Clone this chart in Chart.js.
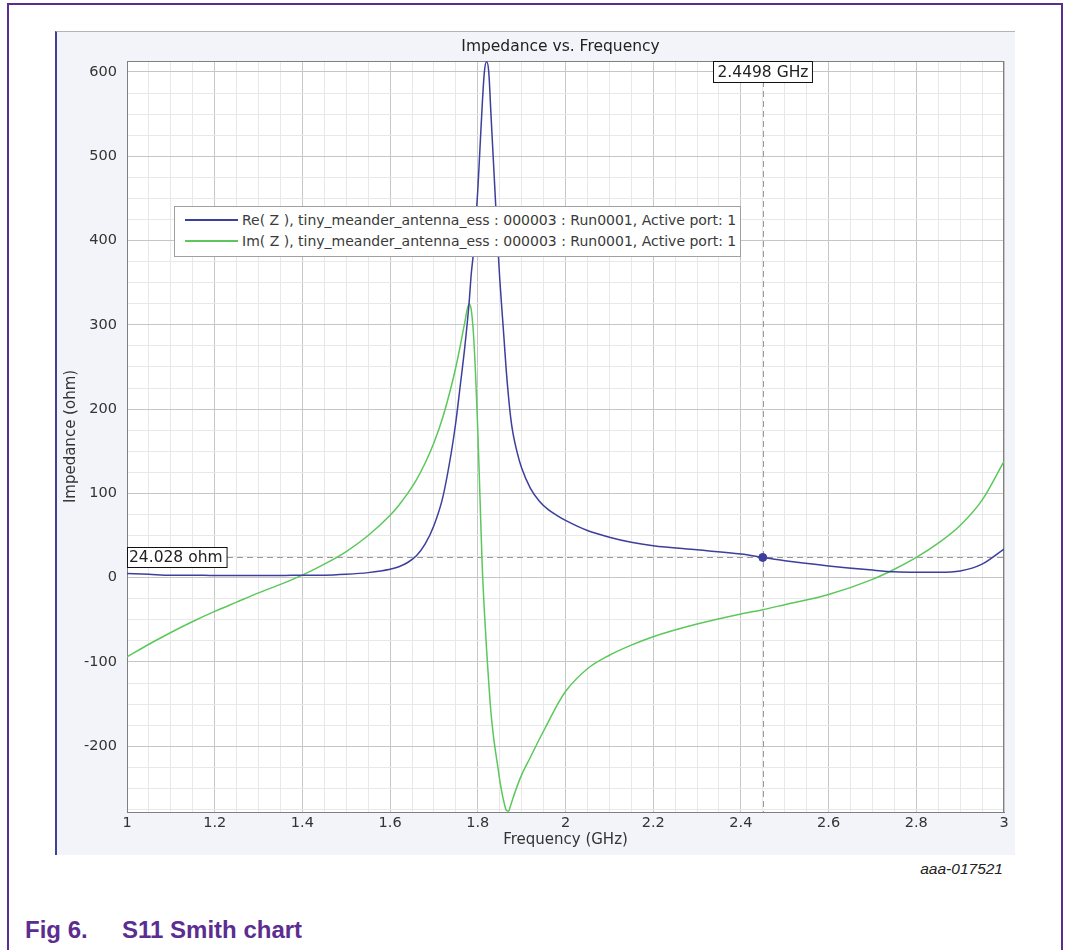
<!DOCTYPE html>
<html>
<head>
<meta charset="utf-8">
<script src="https://cdn.jsdelivr.net/npm/chart.js@4.4.1/dist/chart.umd.min.js"></script>
<style>
  html, body { margin: 0; padding: 0; background: #fff; }
  body { width: 1065px; height: 950px; position: relative; overflow: hidden; font-family: "DejaVu Sans", sans-serif; }
  #frame { position: absolute; left: 7px; top: 3px; width: 1056px; height: 1000px; border: 2px solid #5c2d91; border-bottom: none; box-sizing: border-box; }
  #panel { position: absolute; left: 55px; top: 31px; width: 960px; height: 824px; background: #f3f4f9; border-top: 1px solid #b4b4b8; border-left: 2px solid #3d4190; box-sizing: border-box; }
  #chart { position: absolute; left: 55px; top: 31px; }
  #legend { position: absolute; left: 174px; top: 206px; width: 567px; height: 51px; background: #fff; border: 1px solid #a0a0a0; box-sizing: border-box; }
  #legend .sample { position: absolute; left: 10px; width: 53px; height: 1.5px; }
  #legend .label { position: absolute; left: 67px; font-size: 14px; line-height: 16px; color: #3a3a3a; white-space: nowrap; }
  #code { position: absolute; right: 62px; top: 861px; font: italic 15.5px "Liberation Sans", Arial, sans-serif; line-height: 15px; color: #222; }
  .cap { position: absolute; top: 918px; font: bold 24px "Liberation Sans", Arial, sans-serif; line-height: 23px; color: #5c2d91; }
</style>
</head>
<body>
<div id="frame"></div>
<div id="panel"></div>
<canvas id="chart" width="960" height="824"></canvas>
<div id="legend"></div>
<div id="code">aaa-017521</div>
<div class="cap" style="left:25px">Fig 6.</div>
<div class="cap" style="left:122px">S11 Smith chart</div>
<script>
// frequency points (GHz), denser around the resonance
const freq = [1.0, 1.05, 1.1, 1.15, 1.2, 1.25, 1.3, 1.35, 1.4, 1.45, 1.5, 1.55, 1.6, 1.62, 1.64, 1.66, 1.68, 1.70,
  1.72, 1.74, 1.75, 1.76, 1.77, 1.78, 1.785, 1.79, 1.795, 1.80, 1.805, 1.81, 1.815, 1.82, 1.825, 1.83, 1.835,
  1.84, 1.845, 1.85, 1.855, 1.86, 1.865, 1.87, 1.875, 1.88, 1.89, 1.90, 1.92, 1.94, 1.96, 1.98, 2.0, 2.05,
  2.1, 2.15, 2.2, 2.3, 2.4, 2.45, 2.5, 2.6, 2.7, 2.75, 2.8, 2.85, 2.9, 2.95, 3.0];

// Re(Z), ohm
const reZ = [5, 4, 3, 3, 2.5, 2.5, 2.5, 2.5, 3, 3, 4, 6, 10, 13, 18, 26, 40, 62,
  95, 150, 185, 228, 272, 325, 360, 385, 420, 460, 510, 560, 600, 612, 600, 550, 500,
  450, 400, 355, 318, 282, 245, 215, 190, 172, 148, 130, 106, 91, 81, 74, 68, 56,
  48, 42, 38, 33, 28, 24, 20, 14, 9, 7, 6.5, 6.5, 8, 16, 34];

// Im(Z), ohm
const imZ = [-94, -79, -65, -52, -40, -29, -18, -8, 3, 16, 31, 50, 74, 86, 100, 116, 136, 160,
  190, 228, 250, 275, 302, 325, 318, 290, 240, 175, 95, 15, -40, -85, -125, -160, -185,
  -205, -222, -240, -255, -267, -276, -277, -270, -262, -247, -234, -213, -192, -172, -152, -135, -108,
  -92, -80, -70, -55, -43, -38, -32, -20, -2, 10, 24, 41, 62, 92, 138];

const seriesNames = [
  'Re( Z ), tiny_meander_antenna_ess : 000003 : Run0001, Active port: 1',
  'Im( Z ), tiny_meander_antenna_ess : 000003 : Run0001, Active port: 1'
];
const seriesColors = ['#3c3f9c', '#5cc85c'];

const markerFreq = 2.4498;
const markerOhm = 24.028;

const xMin = 1, xMax = 3, yMin = -278, yMax = 613;

const isMultiple = (v, step) => Math.abs(v / step - Math.round(v / step)) < 1e-6;

const markerPlugin = {
  id: 'marker',
  beforeDraw(chart) {
    const { ctx, chartArea: a } = chart;
    ctx.save();
    ctx.fillStyle = '#fff';
    ctx.fillRect(a.left, a.top, a.right - a.left, a.bottom - a.top);
    ctx.restore();
  },
  beforeDatasetsDraw(chart) {
    const { ctx, chartArea: a, scales } = chart;
    const px = scales.x.getPixelForValue(markerFreq);
    const py = scales.y.getPixelForValue(markerOhm);
    ctx.save();
    ctx.strokeStyle = '#9a9a9a';
    ctx.lineWidth = 1;
    ctx.setLineDash([6, 4]);
    ctx.beginPath();
    ctx.moveTo(Math.round(px) + 0.5, a.top);
    ctx.lineTo(Math.round(px) + 0.5, a.bottom);
    ctx.moveTo(a.left, Math.round(py) + 0.5);
    ctx.lineTo(a.right, Math.round(py) + 0.5);
    ctx.stroke();
    ctx.setLineDash([]);
    ctx.strokeStyle = '#808080';
    ctx.strokeRect(a.left + 0.5, a.top + 0.5, a.right - a.left - 1, a.bottom - a.top);
    ctx.restore();
  },
  afterDatasetsDraw(chart) {
    const { ctx, chartArea: a, scales } = chart;
    const px = scales.x.getPixelForValue(markerFreq);
    const py = scales.y.getPixelForValue(markerOhm);
    ctx.save();
    ctx.font = '15.5px "DejaVu Sans"';
    ctx.textBaseline = 'middle';
    ctx.textAlign = 'left';
    // frequency label box at top
    const t1 = markerFreq.toFixed(4) + ' GHz';
    const w1 = ctx.measureText(t1).width + 8;
    const bx = Math.round(px - w1 / 2) + 0.5;
    ctx.fillStyle = '#fff';
    ctx.fillRect(bx, a.top + 0.5, w1, 21);
    ctx.strokeStyle = '#111';
    ctx.strokeRect(bx, a.top + 0.5, w1, 21);
    ctx.fillStyle = '#222';
    ctx.fillText(t1, bx + 4, a.top + 11.5);
    // impedance label box at left
    const t2 = markerOhm.toFixed(3) + ' ohm';
    const w2 = ctx.measureText(t2).width + 6;
    const by = Math.round(py - 10) + 0.5;
    ctx.fillStyle = '#fff';
    ctx.fillRect(a.left + 0.5, by, w2, 20);
    ctx.strokeStyle = '#111';
    ctx.strokeRect(a.left + 0.5, by, w2, 20);
    ctx.fillStyle = '#222';
    ctx.fillText(t2, a.left + 2, by + 10.5);
    // chart title
    ctx.font = '15.5px "DejaVu Sans"';
    ctx.textAlign = 'center';
    ctx.fillStyle = '#222';
    ctx.fillText('Impedance vs. Frequency', (a.left + a.right) / 2 - 5, 16);
    ctx.restore();
  }
};

const gridColor = (step) => (c) => isMultiple(c.tick.value, step) ? '#c6c6c6' : '#e8e8e8';

new Chart(document.getElementById('chart'), {
  type: 'line',
  data: {
    datasets: [
      {
        label: seriesNames[0],
        data: freq.map((f, i) => ({ x: f, y: reZ[i] })),
        borderColor: seriesColors[0],
        borderWidth: 1.5,
        pointRadius: 0,
        cubicInterpolationMode: 'monotone'
      },
      {
        label: seriesNames[1],
        data: freq.map((f, i) => ({ x: f, y: imZ[i] })),
        borderColor: seriesColors[1],
        borderWidth: 1.5,
        pointRadius: 0,
        cubicInterpolationMode: 'monotone'
      },
      {
        label: 'marker',
        data: [{ x: markerFreq, y: markerOhm }],
        showLine: false,
        pointRadius: 4,
        pointBackgroundColor: seriesColors[0],
        pointBorderColor: seriesColors[0]
      }
    ]
  },
  options: {
    responsive: false,
    animation: false,
    layout: { padding: { top: 30, right: 11, left: 0, bottom: 0 } },
    plugins: {
      legend: { display: false },
      title: { display: false },
      tooltip: { enabled: false }
    },
    scales: {
      x: {
        type: 'linear',
        min: xMin,
        max: xMax,
        afterFit: (s) => { s.height = 43; },
        grid: { color: gridColor(0.2), drawTicks: false },
        border: { display: true, color: '#808080' },
        ticks: {
          stepSize: 0.05,
          includeBounds: false,
          autoSkip: false,
          maxRotation: 0,
          padding: 3,
          color: '#333',
          font: { family: 'DejaVu Sans', size: 14.5 },
          callback: (v) => isMultiple(v, 0.2) ? String(Number(v.toFixed(1))) : ''
        },
        title: {
          display: true,
          text: 'Frequency (GHz)',
          color: '#333',
          font: { family: 'DejaVu Sans', size: 15 },
          padding: { top: 0, bottom: 5.6 }
        }
      },
      y: {
        type: 'linear',
        min: yMin,
        max: yMax,
        afterFit: (s) => { s.width = 72; },
        grid: { color: gridColor(100), drawTicks: false },
        border: { display: true, color: '#808080' },
        ticks: {
          stepSize: 25,
          includeBounds: false,
          autoSkip: false,
          padding: 10,
          color: '#333',
          font: { family: 'DejaVu Sans', size: 14.5 },
          callback: (v) => isMultiple(v, 100) ? String(Math.round(v)) : ''
        },
        title: {
          display: true,
          text: 'Impedance (ohm)',
          color: '#333',
          font: { family: 'DejaVu Sans', size: 15 },
          padding: { top: 7.6, bottom: 0 }
        }
      }
    }
  },
  plugins: [markerPlugin]
});

// legend box drawn inside the plot, as in the reference
const legend = document.getElementById('legend');
seriesNames.forEach((name, i) => {
  const cy = 13 + i * 21;
  const s = document.createElement('div');
  s.className = 'sample';
  s.style.top = (cy - 0.75) + 'px';
  s.style.background = seriesColors[i];
  legend.appendChild(s);
  const l = document.createElement('div');
  l.className = 'label';
  l.style.top = (cy - 8) + 'px';
  l.textContent = name;
  legend.appendChild(l);
});
</script>
</body>
</html>
